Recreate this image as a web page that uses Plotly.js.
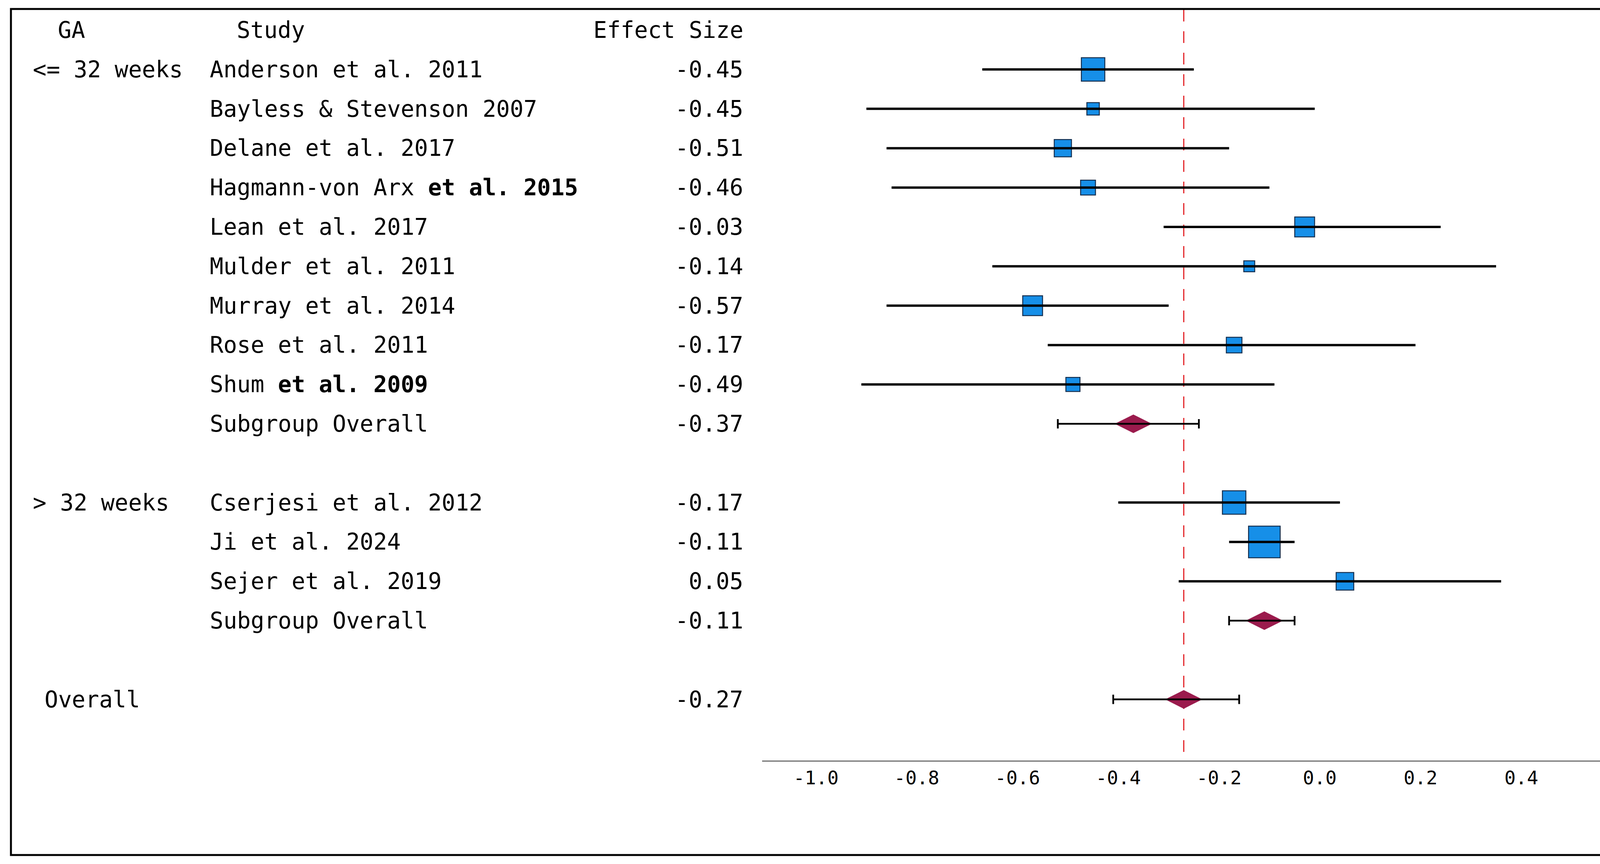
<!DOCTYPE html>
<html>
<head>
<meta charset="utf-8">
<script src="https://cdn.plot.ly/plotly-3.0.1.min.js"></script>
<style>
html,body{margin:0;padding:0;background:#ffffff;overflow:hidden;}
#chart{width:4152px;height:2212px;}
</style>
</head>
<body>
<div id="chart"></div>
<script>
// ---------------- DATA ----------------
const headers = ["GA", "Study", "Effect Size"];
const gaLabels = ["<= 32 weeks", "> 32 weeks"];
const overallLabel = "Overall";
const subgroupLabel = "Subgroup Overall";

const group1Studies = ["Anderson et al. 2011", "Bayless & Stevenson 2007", "Delane et al. 2017",
  "Hagmann-von Arx et al. 2015", "Lean et al. 2017", "Mulder et al. 2011", "Murray et al. 2014",
  "Rose et al. 2011", "Shum et al. 2009"];
const group1Effects = [-0.45, -0.45, -0.51, -0.46, -0.03, -0.14, -0.57, -0.17, -0.49];
const group1Lower   = [-0.67, -0.90, -0.86, -0.85, -0.31, -0.65, -0.86, -0.54, -0.91];
const group1Upper   = [-0.25, -0.01, -0.18, -0.10,  0.24,  0.35, -0.30,  0.19, -0.09];
const group1Weights = [12.4, 3.5, 6.7, 5.0, 8.9, 2.7, 8.9, 5.5, 4.5];

const group2Studies = ["Cserjesi et al. 2012", "Ji et al. 2024", "Sejer et al. 2019"];
const group2Effects = [-0.17, -0.11, 0.05];
const group2Lower   = [-0.40, -0.18, -0.28];
const group2Upper   = [ 0.04, -0.05,  0.36];
const group2Weights = [12.4, 22.6, 7.0];

const subgroupEffects = [-0.37, -0.11];
const subgroupLower   = [-0.52, -0.18];
const subgroupUpper   = [-0.24, -0.05];

const overallEffect = [-0.27];
const overallLower  = [-0.41];
const overallUpper  = [-0.16];

const boldTailStudies = ["Hagmann-von Arx et al. 2015", "Shum et al. 2009"];

const tickValues = [-1.0, -0.8, -0.6, -0.4, -0.2, 0.0, 0.2, 0.4];
const tickLabels = ["-1.0", "-0.8", "-0.6", "-0.4", "-0.2", "0.0", "0.2", "0.4"];

// ---------------- LAYOUT CONSTANTS ----------------
const W = 4152, H = 2212;
const FONT = "DejaVu Sans Mono, Liberation Mono, monospace";
const TXT = 58;
const px = v => v / W;
const BLUE = "#168fe8", BLUE_EDGE = "#163050", MAROON = "#9b1b4d";

// build rows (row index = vertical order, 0 is the header)
const studyRows = [], studyX = [], studyLo = [], studyHi = [], studyW = [];
const diamondRows = [], diamondX = [], diamondLo = [], diamondHi = [];
const annotations = [];
let row = 1;

function label(text, xPix, anchor, r) {
  annotations.push({
    x: px(xPix), xref: "paper", xanchor: anchor,
    y: r, yref: "y", yanchor: "middle",
    text: text, showarrow: false,
    font: {family: FONT, size: TXT, color: "#000"}
  });
}
function studyDisplay(name) {
  if (boldTailStudies.includes(name)) {
    const i = name.indexOf(" et al.");
    return name.slice(0, i) + " <b>" + name.slice(i + 1) + "</b>";
  }
  return name;
}
function fmt(v) { return v.toFixed(2); }

// header
label(headers[0], 146, "left", 0);
label(headers[1], 604, "left", 0);
label(headers[2], 1905, "right", 0);

const groups = [
  {ga: gaLabels[0], names: group1Studies, eff: group1Effects, lo: group1Lower, hi: group1Upper, w: group1Weights},
  {ga: gaLabels[1], names: group2Studies, eff: group2Effects, lo: group2Lower, hi: group2Upper, w: group2Weights}
];
groups.forEach((g, gi) => {
  g.names.forEach((n, i) => {
    if (i === 0) label(g.ga.replace("<", "&lt;").replace(">", "&gt;"), 82, "left", row);
    label(studyDisplay(n), 535, "left", row);
    label(fmt(g.eff[i]), 1905, "right", row);
    studyRows.push(row); studyX.push(g.eff[i]); studyLo.push(g.lo[i]); studyHi.push(g.hi[i]); studyW.push(g.w[i]);
    row++;
  });
  label(subgroupLabel, 535, "left", row);
  label(fmt(subgroupEffects[gi]), 1905, "right", row);
  diamondRows.push(row); diamondX.push(subgroupEffects[gi]); diamondLo.push(subgroupLower[gi]); diamondHi.push(subgroupUpper[gi]);
  row += 2;
});
label(overallLabel, 112, "left", row);
label(fmt(overallEffect[0]), 1905, "right", row);
diamondRows.push(row); diamondX.push(overallEffect[0]); diamondLo.push(overallLower[0]); diamondHi.push(overallUpper[0]);

const sizeScale = 60 / Math.sqrt(12.4);

const traces = [
  { // study squares
    type: "scatter", mode: "markers", x: studyX, y: studyRows,
    marker: {symbol: "square", size: studyW.map(w => sizeScale * Math.sqrt(w)), color: BLUE, opacity: 1,
             line: {color: BLUE_EDGE, width: 2.5}},
    hoverinfo: "skip"
  },
  { // pooled diamonds
    type: "scatter", mode: "markers", x: diamondX, y: diamondRows,
    marker: {symbol: "diamond-wide", size: 68, color: MAROON, opacity: 1, line: {width: 0}},
    hoverinfo: "skip"
  },
  { // study CIs
    type: "scatter", mode: "markers", x: studyX, y: studyRows,
    marker: {size: 1, opacity: 0},
    error_x: {type: "data", symmetric: false,
              array: studyHi.map((h, i) => h - studyX[i]),
              arrayminus: studyLo.map((l, i) => studyX[i] - l),
              color: "#000", thickness: 6, width: 0},
    hoverinfo: "skip"
  },
  { // pooled CIs
    type: "scatter", mode: "markers", x: diamondX, y: diamondRows,
    marker: {size: 1, opacity: 0},
    error_x: {type: "data", symmetric: false,
              array: diamondHi.map((h, i) => h - diamondX[i]),
              arrayminus: diamondLo.map((l, i) => diamondX[i] - l),
              color: "#000", thickness: 4.5, width: 12},
    hoverinfo: "skip"
  }
];

const axisBottomPix = 1947;
const rowTop = 77, rowStep = 100.8;
const kOf = p => (p - rowTop) / rowStep;

const layout = {
  width: W, height: H,
  margin: {l: 0, r: 0, t: 0, b: 0, pad: 0},
  paper_bgcolor: "#ffffff", plot_bgcolor: "rgba(0,0,0,0)",
  showlegend: false, hovermode: false,
  xaxis: {
    domain: [px(1951), px(4115)], range: [-1.107, 0.571],
    showline: true, linecolor: "#707070", linewidth: 3,
    ticks: "", showgrid: false, zeroline: false,
    tickmode: "array", tickvals: tickValues, ticktext: tickLabels,
    tickfont: {family: FONT, size: 48, color: "#000"},
    fixedrange: true
  },
  yaxis: {
    domain: [(H - axisBottomPix) / H, 1], range: [kOf(axisBottomPix), kOf(0)],
    visible: false, showgrid: false, zeroline: false, fixedrange: true
  },
  shapes: [
    {type: "line", xref: "x", yref: "y", x0: overallEffect[0], x1: overallEffect[0],
     y0: kOf(25), y1: kOf(axisBottomPix), layer: "below",
     line: {color: "#e3262b", width: 3, dash: "30px,25px"}},
    {type: "rect", xref: "paper", yref: "paper",
     x0: px(28), x1: px(4145), y0: 1 - 2189 / H, y1: 1 - 23 / H,
     line: {color: "#000", width: 5}, fillcolor: "rgba(0,0,0,0)", layer: "above"}
  ],
  annotations: annotations
};

Plotly.newPlot("chart", traces, layout, {staticPlot: true, displayModeBar: false});
</script>
</body>
</html>
